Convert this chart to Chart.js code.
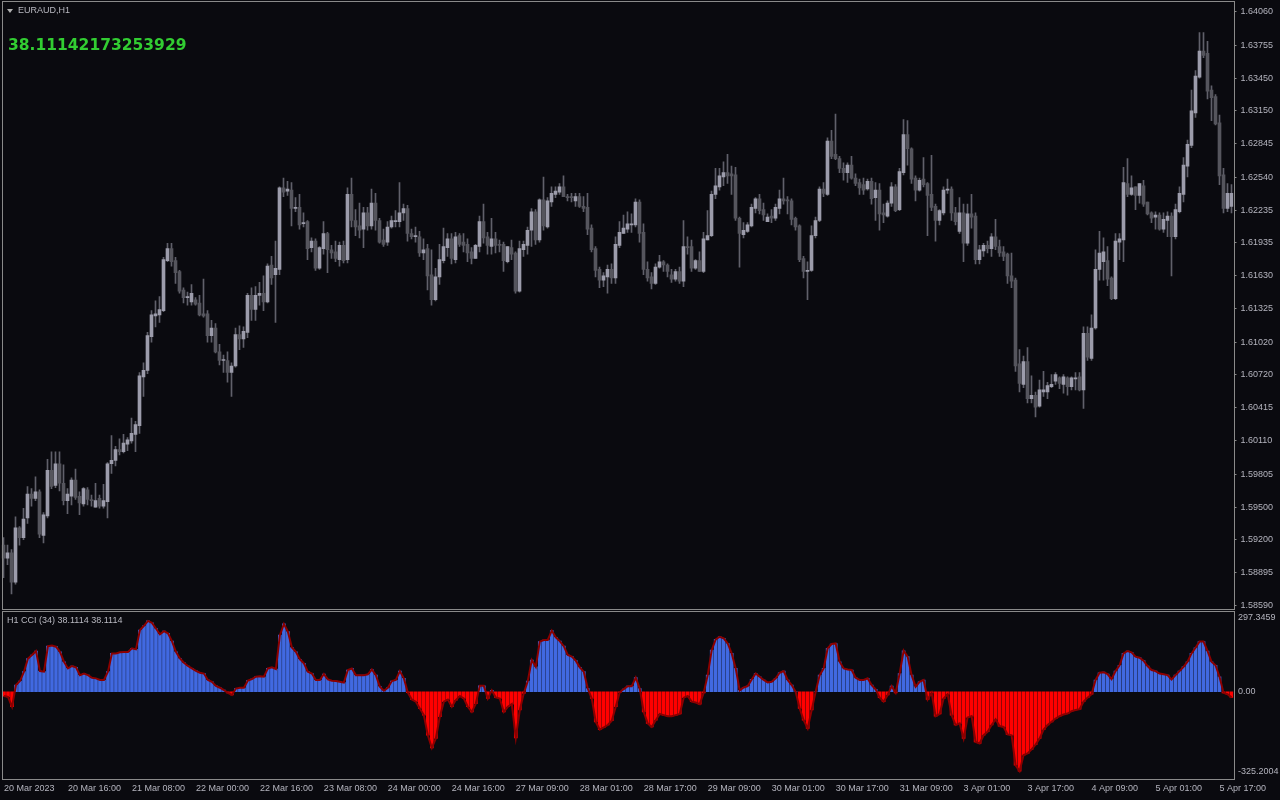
<!DOCTYPE html>
<html>
<head>
<meta charset="utf-8">
<title>EURAUD,H1</title>
<script src="https://cdn.jsdelivr.net/npm/chart.js@4.4.1/dist/chart.umd.min.js"></script>
<style>
  html, body { margin: 0; padding: 0; background: #0a0a0f; }
  #stage { position: relative; width: 1280px; height: 800px; overflow: hidden; background: #0a0a0f; font-family: "Liberation Sans", Arial, sans-serif; }
  canvas { position: absolute; left: 0; }
  #priceCanvas { top: 0; }
  #cciCanvas { top: 610px; }
  .frame { position: absolute; border: 1px solid #8a8a8a; pointer-events: none; }
  #mainFrame { left: 2px; top: 1px; width: 1231px; height: 607px; }
  #cciFrame { left: 2px; top: 611px; width: 1231px; height: 167px; }
  .txt { position: absolute; white-space: nowrap; color: #b8b8c0; font-size: 9px; line-height: 11px; }
  #symbol { left: 18px; top: 5px; }
  #tri { position: absolute; left: 7px; top: 9px; width: 0; height: 0; border-left: 3px solid transparent; border-right: 3px solid transparent; border-top: 4px solid #b0b0b0; }
  #cciValue { position: absolute; left: 8px; top: 35px; white-space: nowrap; font-family: "DejaVu Sans", sans-serif; font-weight: bold; font-size: 15.5px; line-height: 20px; color: #32cd32; }
  #cciTitle { left: 7px; top: 615px; }
</style>
</head>
<body>
<div id="stage">
  <canvas id="priceCanvas" width="1280" height="610"></canvas>
  <canvas id="cciCanvas" width="1280" height="190"></canvas>
  <div class="frame" id="mainFrame"></div>
  <div class="frame" id="cciFrame"></div>
  <div id="tri"></div>
  <div class="txt" id="symbol">EURAUD,H1</div>
  <div id="cciValue">38.11142173253929</div>
  <div class="txt" id="cciTitle">H1 CCI (34) 38.1114 38.1114</div>
</div>
<script>
// --- data (H1 bars, 20 Mar - 5 Apr 2023) ---
const timeLabels = ['20 Mar 2023', '20 Mar 16:00', '21 Mar 08:00', '22 Mar 00:00', '22 Mar 16:00',
  '23 Mar 08:00', '24 Mar 00:00', '24 Mar 16:00', '27 Mar 09:00', '28 Mar 01:00', '28 Mar 17:00',
  '29 Mar 09:00', '30 Mar 01:00', '30 Mar 17:00', '31 Mar 09:00', '3 Apr 01:00', '3 Apr 17:00',
  '4 Apr 09:00', '5 Apr 01:00', '5 Apr 17:00'];
const labelEvery = 16;

const priceTicks = [1.64060, 1.63755, 1.63450, 1.63150, 1.62845, 1.62540, 1.62235, 1.61935, 1.61630,
  1.61325, 1.61020, 1.60720, 1.60415, 1.60110, 1.59805, 1.59500, 1.59200, 1.58895, 1.58590];
const priceMin = 1.58562, priceMax = 1.64161;

const cciTicks = [297.3459, 0, -325.2004];
const cciMin = -325.2004, cciMax = 297.3459;

const opens = [
  1.5915,1.5903,1.5908,1.5881,1.5931,1.5922,1.5940,1.5962,1.5958,1.5964,
  1.5924,1.5942,1.5984,1.5970,1.5990,1.5972,1.5956,1.5960,1.5975,1.5960,
  1.5953,1.5966,1.5957,1.5950,1.5958,1.5951,1.5955,1.5990,1.5993,1.6003,
  1.6001,1.6008,1.6011,1.6017,1.6025,1.6070,1.6076,1.6107,1.6126,1.6127,
  1.6131,1.6177,1.6188,1.6177,1.6167,1.6150,1.6143,1.6139,1.6141,1.6138,
  1.6128,1.6128,1.6108,1.6115,1.6093,1.6085,1.6085,1.6074,1.6080,1.6109,
  1.6105,1.6111,1.6145,1.6132,1.6145,1.6147,1.6139,1.6173,1.6164,1.6169,
  1.6244,1.6241,1.6242,1.6225,1.6226,1.6211,1.6213,1.6189,1.6195,1.6170,
  1.6188,1.6202,1.6187,1.6185,1.6178,1.6191,1.6178,1.6238,1.6214,1.6209,
  1.6206,1.6221,1.6209,1.6230,1.6214,1.6196,1.6194,1.6208,1.6213,1.6213,
  1.6221,1.6225,1.6202,1.6199,1.6199,1.6184,1.6188,1.6164,1.6141,1.6162,
  1.6177,1.6189,1.6197,1.6178,1.6200,1.6194,1.6192,1.6185,1.6179,1.6190,
  1.6213,1.6199,1.6190,1.6197,1.6192,1.6192,1.6176,1.6189,1.6184,1.6149,
  1.6187,1.6191,1.6205,1.6222,1.6196,1.6233,1.6208,1.6231,1.6238,1.6240,
  1.6245,1.6236,1.6236,1.6232,1.6236,1.6227,1.6226,1.6207,1.6188,1.6169,
  1.6159,1.6162,1.6169,1.6161,1.6191,1.6202,1.6206,1.6210,1.6210,1.6231,
  1.6203,1.6169,1.6162,1.6156,1.6171,1.6176,1.6173,1.6164,1.6160,1.6167,
  1.6158,1.6190,1.6190,1.6170,1.6177,1.6167,1.6196,1.6200,1.6238,1.6245,
  1.6254,1.6258,1.6257,1.6256,1.6216,1.6201,1.6204,1.6209,1.6225,1.6234,
  1.6224,1.6213,1.6218,1.6216,1.6225,1.6234,1.6233,1.6232,1.6216,1.6209,
  1.6179,1.6167,1.6168,1.6200,1.6214,1.6243,1.6238,1.6287,1.6275,1.6271,
  1.6262,1.6258,1.6265,1.6253,1.6249,1.6247,1.6243,1.6250,1.6235,1.6242,
  1.6221,1.6218,1.6230,1.6245,1.6224,1.6258,1.6293,1.6280,1.6253,1.6242,
  1.6252,1.6248,1.6238,1.6227,1.6214,1.6221,1.6242,1.6243,1.6221,1.6204,
  1.6221,1.6193,1.6220,1.6218,1.6178,1.6186,1.6191,1.6188,1.6199,1.6190,
  1.6185,1.6183,1.6163,1.6159,1.6082,1.6063,1.6084,1.6050,1.6053,1.6043,
  1.6056,1.6056,1.6061,1.6066,1.6069,1.6063,1.6069,1.6061,1.6068,1.6070,
  1.6058,1.6110,1.6087,1.6115,1.6169,1.6176,1.6177,1.6161,1.6142,1.6194,
  1.6196,1.6248,1.6238,1.6245,1.6237,1.6246,1.6231,1.6221,1.6217,1.6219,
  1.6206,1.6214,1.6218,1.6199,1.6222,1.6238,1.6264,1.6283,1.6313,1.6346,
  1.6370,1.6368,1.6334,1.6328,1.6304,1.6256,1.6225,1.6227
];
const highs = [
  1.5922,1.5915,1.5911,1.5941,1.5932,1.5949,1.5969,1.5967,1.5978,1.5966,
  1.5945,1.5994,1.6001,1.6001,1.6001,1.5989,1.5967,1.5977,1.5985,1.5964,
  1.5968,1.5968,1.5961,1.5972,1.5961,1.5971,1.5991,1.6016,1.6006,1.6013,
  1.6017,1.6014,1.6032,1.6029,1.6074,1.6083,1.6111,1.6131,1.6140,1.6144,
  1.6180,1.6193,1.6193,1.6180,1.6168,1.6152,1.6148,1.6155,1.6143,1.6145,
  1.6160,1.6131,1.6122,1.6119,1.6100,1.6090,1.6093,1.6083,1.6115,1.6117,
  1.6116,1.6147,1.6152,1.6153,1.6157,1.6163,1.6174,1.6181,1.6195,1.6245,
  1.6253,1.6250,1.6249,1.6235,1.6238,1.6221,1.6214,1.6198,1.6197,1.6190,
  1.6213,1.6203,1.6191,1.6195,1.6194,1.6195,1.6244,1.6253,1.6224,1.6230,
  1.6226,1.6226,1.6243,1.6239,1.6216,1.6206,1.6213,1.6218,1.6223,1.6249,
  1.6229,1.6228,1.6206,1.6208,1.6204,1.6197,1.6192,1.6187,1.6170,1.6192,
  1.6207,1.6202,1.6202,1.6203,1.6202,1.6202,1.6197,1.6189,1.6192,1.6218,
  1.6229,1.6203,1.6216,1.6203,1.6196,1.6194,1.6190,1.6196,1.6185,1.6195,
  1.6195,1.6208,1.6225,1.6224,1.6234,1.6254,1.6235,1.6245,1.6245,1.6248,
  1.6255,1.6238,1.6239,1.6239,1.6239,1.6236,1.6239,1.6210,1.6190,1.6171,
  1.6166,1.6173,1.6174,1.6199,1.6213,1.6219,1.6222,1.6220,1.6234,1.6233,
  1.6211,1.6176,1.6166,1.6174,1.6182,1.6177,1.6174,1.6169,1.6169,1.6171,
  1.6214,1.6199,1.6196,1.6178,1.6185,1.6203,1.6223,1.6241,1.6262,1.6262,
  1.6268,1.6275,1.6264,1.6263,1.6217,1.6212,1.6212,1.6229,1.6235,1.6238,
  1.6230,1.6220,1.6224,1.6229,1.6242,1.6253,1.6236,1.6234,1.6217,1.6210,
  1.6181,1.6176,1.6209,1.6217,1.6245,1.6249,1.6290,1.6297,1.6312,1.6273,
  1.6267,1.6267,1.6273,1.6257,1.6252,1.6253,1.6252,1.6253,1.6249,1.6248,
  1.6229,1.6232,1.6249,1.6247,1.6262,1.6307,1.6306,1.6281,1.6255,1.6253,
  1.6272,1.6249,1.6274,1.6229,1.6224,1.6245,1.6252,1.6245,1.6226,1.6235,
  1.6229,1.6229,1.6238,1.6221,1.6191,1.6193,1.6195,1.6202,1.6215,1.6196,
  1.6190,1.6184,1.6184,1.6161,1.6095,1.6089,1.6097,1.6071,1.6056,1.6067,
  1.6075,1.6065,1.6072,1.6074,1.6070,1.6072,1.6070,1.6070,1.6074,1.6074,
  1.6116,1.6116,1.6127,1.6187,1.6204,1.6198,1.6190,1.6162,1.6202,1.6202,
  1.6263,1.6271,1.6255,1.6245,1.6248,1.6251,1.6231,1.6222,1.6222,1.6221,
  1.6221,1.6222,1.6221,1.6229,1.6245,1.6272,1.6288,1.6334,1.6352,1.6387,
  1.6387,1.6379,1.6338,1.6330,1.6311,1.6262,1.6248,1.6247
];
const lows = [
  1.5885,1.5897,1.5870,1.5879,1.5915,1.5920,1.5935,1.5951,1.5956,1.5922,
  1.5917,1.5940,1.5967,1.5968,1.5965,1.5952,1.5944,1.5952,1.5957,1.5943,
  1.5951,1.5952,1.5951,1.5950,1.5949,1.5949,1.5940,1.5981,1.5988,1.5998,
  1.6000,1.6002,1.6009,1.6001,1.6018,1.6052,1.6073,1.6102,1.6116,1.6120,
  1.6130,1.6176,1.6172,1.6156,1.6147,1.6138,1.6136,1.6136,1.6136,1.6126,
  1.6125,1.6102,1.6102,1.6092,1.6081,1.6074,1.6065,1.6052,1.6079,1.6095,
  1.6097,1.6106,1.6122,1.6122,1.6136,1.6131,1.6138,1.6155,1.6120,1.6164,
  1.6236,1.6237,1.6209,1.6222,1.6206,1.6208,1.6178,1.6185,1.6168,1.6169,
  1.6183,1.6166,1.6179,1.6176,1.6172,1.6175,1.6175,1.6208,1.6200,1.6198,
  1.6189,1.6205,1.6206,1.6205,1.6193,1.6190,1.6191,1.6207,1.6208,1.6208,
  1.6214,1.6195,1.6197,1.6194,1.6181,1.6178,1.6150,1.6136,1.6140,1.6155,
  1.6175,1.6181,1.6174,1.6175,1.6190,1.6185,1.6176,1.6174,1.6179,1.6185,
  1.6193,1.6183,1.6183,1.6184,1.6185,1.6167,1.6175,1.6178,1.6147,1.6148,
  1.6181,1.6183,1.6190,1.6192,1.6194,1.6205,1.6207,1.6227,1.6235,1.6238,
  1.6236,1.6232,1.6231,1.6227,1.6226,1.6222,1.6201,1.6185,1.6162,1.6152,
  1.6153,1.6147,1.6156,1.6156,1.6189,1.6202,1.6203,1.6203,1.6208,1.6194,
  1.6164,1.6158,1.6151,1.6155,1.6170,1.6167,1.6162,1.6157,1.6158,1.6156,
  1.6153,1.6183,1.6167,1.6169,1.6167,1.6166,1.6196,1.6199,1.6234,1.6242,
  1.6246,1.6248,1.6238,1.6214,1.6171,1.6198,1.6203,1.6208,1.6221,1.6220,
  1.6214,1.6213,1.6212,1.6214,1.6220,1.6229,1.6220,1.6210,1.6205,1.6176,
  1.6161,1.6141,1.6167,1.6198,1.6213,1.6236,1.6237,1.6271,1.6270,1.6258,
  1.6251,1.6249,1.6252,1.6246,1.6238,1.6238,1.6242,1.6229,1.6214,1.6205,
  1.6212,1.6217,1.6227,1.6222,1.6223,1.6256,1.6265,1.6248,1.6232,1.6241,
  1.6245,1.6200,1.6223,1.6195,1.6210,1.6219,1.6239,1.6214,1.6210,1.6202,
  1.6176,1.6191,1.6207,1.6174,1.6174,1.6181,1.6184,1.6181,1.6187,1.6181,
  1.6177,1.6156,1.6152,1.6075,1.6056,1.6060,1.6046,1.6046,1.6033,1.6042,
  1.6052,1.6050,1.6060,1.6063,1.6059,1.6055,1.6053,1.6058,1.6058,1.6057,
  1.6041,1.6085,1.6085,1.6114,1.6159,1.6159,1.6154,1.6141,1.6141,1.6178,
  1.6176,1.6236,1.6237,1.6224,1.6230,1.6227,1.6219,1.6212,1.6206,1.6205,
  1.6203,1.6199,1.6163,1.6197,1.6221,1.6231,1.6254,1.6281,1.6309,1.6345,
  1.6364,1.6326,1.6306,1.6302,1.6247,1.6221,1.6222,1.6221
];
const closes = [
  1.5903,1.5908,1.5881,1.5931,1.5922,1.5939,1.5962,1.5958,1.5964,1.5925,
  1.5943,1.5984,1.5969,1.5990,1.5972,1.5956,1.5962,1.5975,1.5959,1.5954,
  1.5967,1.5957,1.5956,1.5956,1.5951,1.5956,1.5990,1.5993,1.6003,1.6001,
  1.6009,1.6012,1.6018,1.6026,1.6071,1.6076,1.6108,1.6127,1.6128,1.6132,
  1.6178,1.6188,1.6176,1.6166,1.6149,1.6143,1.6144,1.6147,1.6137,1.6127,
  1.6126,1.6108,1.6115,1.6093,1.6085,1.6086,1.6074,1.6080,1.6109,1.6105,
  1.6112,1.6145,1.6132,1.6145,1.6147,1.6139,1.6172,1.6161,1.6170,1.6244,
  1.6240,1.6243,1.6225,1.6226,1.6210,1.6212,1.6188,1.6195,1.6170,1.6189,
  1.6202,1.6187,1.6184,1.6179,1.6191,1.6177,1.6238,1.6214,1.6208,1.6205,
  1.6221,1.6209,1.6230,1.6214,1.6194,1.6192,1.6208,1.6214,1.6214,1.6221,
  1.6225,1.6202,1.6199,1.6200,1.6184,1.6187,1.6163,1.6141,1.6162,1.6178,
  1.6190,1.6197,1.6179,1.6199,1.6192,1.6191,1.6184,1.6179,1.6191,1.6213,
  1.6198,1.6191,1.6197,1.6191,1.6191,1.6177,1.6190,1.6183,1.6149,1.6188,
  1.6192,1.6205,1.6222,1.6196,1.6233,1.6209,1.6232,1.6239,1.6241,1.6245,
  1.6236,1.6235,1.6235,1.6236,1.6227,1.6225,1.6206,1.6187,1.6168,1.6159,
  1.6163,1.6169,1.6161,1.6192,1.6203,1.6207,1.6211,1.6211,1.6231,1.6202,
  1.6169,1.6161,1.6156,1.6171,1.6176,1.6173,1.6167,1.6160,1.6167,1.6158,
  1.6190,1.6189,1.6170,1.6177,1.6167,1.6197,1.6200,1.6238,1.6246,1.6255,
  1.6258,1.6255,1.6255,1.6216,1.6202,1.6205,1.6210,1.6226,1.6234,1.6223,
  1.6219,1.6217,1.6216,1.6226,1.6234,1.6232,1.6232,1.6215,1.6208,1.6178,
  1.6167,1.6168,1.6200,1.6214,1.6243,1.6239,1.6287,1.6273,1.6271,1.6262,
  1.6258,1.6265,1.6253,1.6248,1.6244,1.6242,1.6250,1.6234,1.6242,1.6220,
  1.6219,1.6230,1.6245,1.6223,1.6259,1.6293,1.6280,1.6252,1.6242,1.6251,
  1.6247,1.6237,1.6226,1.6214,1.6223,1.6242,1.6243,1.6221,1.6213,1.6221,
  1.6193,1.6220,1.6217,1.6178,1.6187,1.6191,1.6188,1.6199,1.6190,1.6184,
  1.6181,1.6163,1.6158,1.6080,1.6064,1.6084,1.6050,1.6053,1.6042,1.6058,
  1.6058,1.6062,1.6063,1.6072,1.6064,1.6070,1.6061,1.6069,1.6069,1.6058,
  1.6110,1.6088,1.6115,1.6169,1.6184,1.6185,1.6160,1.6142,1.6195,1.6197,
  1.6249,1.6238,1.6244,1.6237,1.6248,1.6229,1.6220,1.6216,1.6219,1.6206,
  1.6215,1.6218,1.6199,1.6224,1.6239,1.6265,1.6284,1.6315,1.6347,1.6370,
  1.6366,1.6333,1.6327,1.6303,1.6255,1.6225,1.6239,1.6239
];
const cci = [
  -16,-19,-56,25,40,75,124,137,152,77,
  75,170,172,168,149,112,87,96,91,62,
  68,62,52,50,44,44,75,143,143,147,
  148,148,162,158,230,246,264,257,236,214,
  226,218,189,149,124,108,96,87,78,71,
  68,44,37,22,15,6,-4,-12,12,15,
  15,42,47,56,58,56,87,91,85,211,
  253,224,165,149,121,106,75,68,44,44,
  66,46,41,40,37,34,81,87,62,62,
  62,65,83,62,19,4,15,40,44,77,
  50,-3,-29,-37,-62,-87,-162,-209,-174,-93,
  -37,-29,-56,-31,-16,-25,-56,-75,-44,22,
  22,-25,5,-21,-25,-75,-56,-46,-172,-68,
  -6,40,118,93,187,193,193,228,203,189,
  170,137,131,116,91,75,12,-25,-112,-141,
  -133,-124,-108,-56,-2,10,21,21,53,12,
  -75,-118,-131,-106,-83,-87,-91,-91,-87,-83,
  -22,-16,-37,-40,-46,-4,62,155,195,205,
  199,180,143,87,5,16,21,46,68,56,
  44,35,37,50,71,77,44,25,0,-62,
  -106,-137,-68,0,62,87,162,178,180,112,
  87,83,81,52,44,44,50,25,9,-22,
  -37,-12,21,-4,68,153,131,62,19,37,
  44,-29,-4,-91,-83,-25,-9,-87,-124,-118,
  -174,-96,-91,-187,-193,-162,-149,-124,-103,-128,
  -131,-159,-162,-274,-296,-236,-230,-215,-197,-174,
  -141,-124,-112,-100,-91,-85,-81,-72,-68,-65,
  -37,-22,-9,44,71,73,66,47,77,99,
  143,152,147,131,127,116,96,81,77,68,
  65,62,46,62,77,93,112,143,164,187,
  187,152,112,99,56,-4,-9,-21
];

// --- styling ---
const BULL = '#9c9cab', BEAR = '#55555d', WICK = '#60606a';
const AXIS_TEXT = '#b4b4be', FRAME = '#8a8a8a';
const FONT = { family: '"Liberation Sans", Arial, sans-serif', size: 9 };
const AXIS_W = 46.5;

const bars = closes.map((_, i) => i);

// price panel: wicks as thin floating bars, bodies as 3px floating bars
new Chart(document.getElementById('priceCanvas'), {
  type: 'bar',
  data: {
    labels: bars,
    datasets: [
      { data: bars.map(i => [lows[i], highs[i]]), backgroundColor: WICK, barThickness: 1, grouped: false, order: 2 },
      { data: bars.map(i => [opens[i], closes[i]]), backgroundColor: bars.map(i => closes[i] >= opens[i] ? BULL : BEAR),
        barThickness: 3, minBarLength: 1, grouped: false, order: 1 }
    ]
  },
  options: {
    animation: false, responsive: false, devicePixelRatio: 1, events: [],
    layout: { padding: { left: 1.5, top: 1, bottom: 1 } },
    plugins: { legend: { display: false }, tooltip: { enabled: false } },
    scales: {
      x: { display: false, offset: true },
      y: {
        position: 'right', min: priceMin, max: priceMax,
        // fixed axis width, and no extra room reserved for the end labels
        afterFit(s) { s.width = AXIS_W; s.paddingTop = 0; s.paddingBottom = 0; },
        afterBuildTicks(s) { s.ticks = priceTicks.map(v => ({ value: v })); },
        ticks: { color: AXIS_TEXT, font: FONT, padding: 4, autoSkip: false, callback: v => v.toFixed(5) },
        grid: { drawOnChartArea: false, drawTicks: true, tickLength: 3, color: FRAME },
        border: { display: false }
      }
    }
  }
});

// min / zero / max labels of the indicator window, kept inside the panel
const cciLabels = {
  id: 'cciLabels',
  afterDraw(chart) {
    const { ctx, chartArea, scales: { y } } = chart;
    ctx.save();
    ctx.font = '9px "Liberation Sans", Arial, sans-serif';
    ctx.fillStyle = AXIS_TEXT;
    ctx.textAlign = 'left';
    ctx.textBaseline = 'middle';
    cciTicks.forEach(v => {
      const py = Math.min(Math.max(y.getPixelForValue(v), chartArea.top + 6), chartArea.bottom - 7);
      ctx.fillText(v === 0 ? '0.00' : v.toFixed(4), chartArea.right + 4.5, py);
    });
    ctx.restore();
  }
};

new Chart(document.getElementById('cciCanvas'), {
  type: 'bar',
  data: {
    labels: bars,
    datasets: [
      { type: 'line', data: cci, borderColor: '#8b0000', borderWidth: 2, pointRadius: 0, tension: 0, order: 1 },
      { data: cci, backgroundColor: cci.map(v => v >= 0 ? '#4169e1' : '#ff0000'), barThickness: 3, order: 2 }
    ]
  },
  options: {
    animation: false, responsive: false, devicePixelRatio: 1, events: [],
    layout: { padding: { left: 1.5, top: 2 } },
    plugins: { legend: { display: false }, tooltip: { enabled: false } },
    scales: {
      x: {
        offset: true,
        grid: { display: false, drawTicks: false },
        border: { display: false },
        afterFit(s) { s.height = 21; },
        ticks: {
          autoSkip: false, maxRotation: 0, minRotation: 0, align: 'start', padding: 4,
          color: AXIS_TEXT, font: FONT,
          callback: (v, i) => i % labelEvery === 0 ? timeLabels[i / labelEvery] : null
        }
      },
      y: {
        position: 'right', min: cciMin, max: cciMax,
        afterFit(s) { s.width = AXIS_W; },
        ticks: { display: false },
        grid: { display: false },
        border: { display: false }
      }
    }
  },
  plugins: [cciLabels]
});
</script>
</body>
</html>
